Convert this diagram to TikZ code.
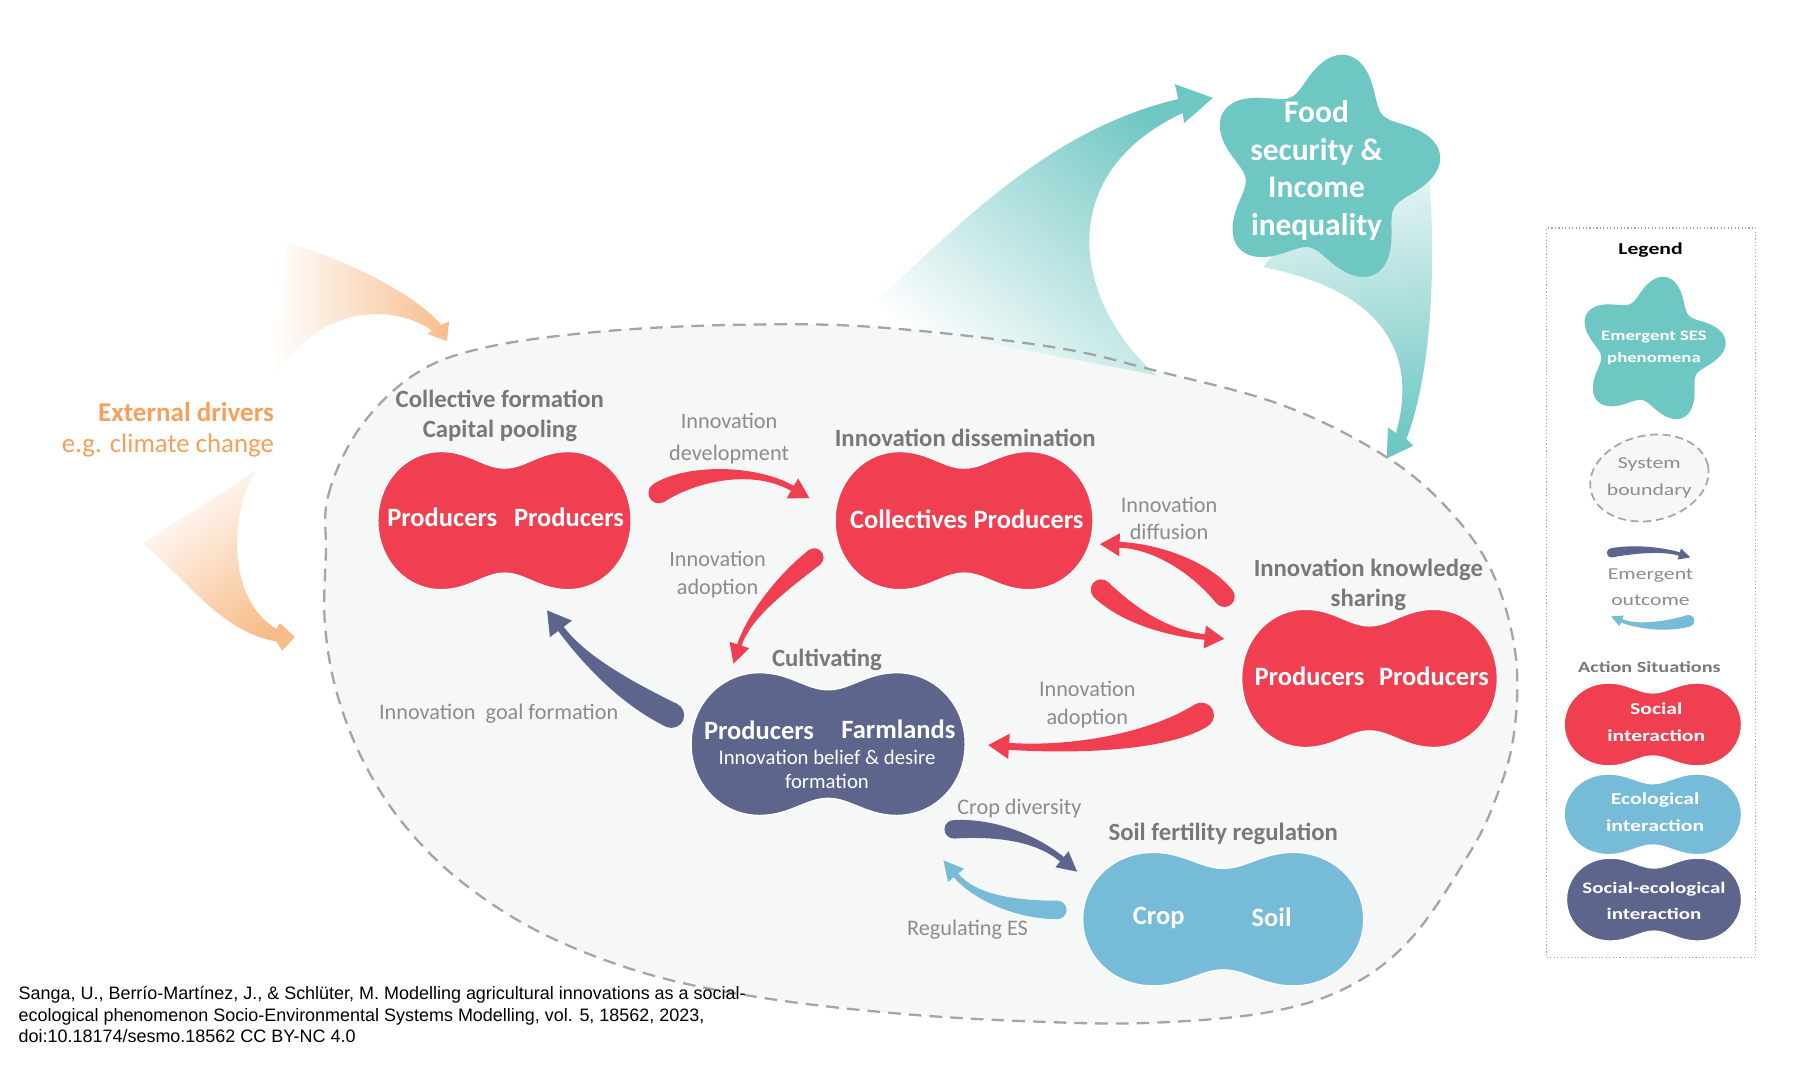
\documentclass[tikz,border=0pt]{standalone}
\usepackage{fontspec}
\setmainfont{Carlito}
\newfontfamily\legfont{Carlito}[FakeStretch=1.3]
\newfontfamily\citefont{Liberation Sans}
\usetikzlibrary{calc}
\newcommand\fsz[2]{\fontsize{#1}{#2}\selectfont}
\definecolor{cRed}{RGB}{239,63,80}
\definecolor{cDark}{RGB}{93,101,141}
\definecolor{cLight}{RGB}{118,188,217}
\definecolor{cTeal}{RGB}{111,199,195}
\definecolor{cOrange}{RGB}{245,160,92}
\definecolor{cOrangeA}{RGB}{248,188,138}
\definecolor{cGrayL}{RGB}{120,120,120}
\definecolor{cGrayT}{RGB}{140,140,140}
\definecolor{cBound}{RGB}{165,165,165}
\definecolor{cBg}{RGB}{246,247,247}
% peanut shaped action situation
\newcommand\peanut[4]{%
  \path[fill=#4, draw=white, line width=1.2pt, shift={#1}, xscale=#2, yscale=#3]
   (-1,0) .. controls (-1,-0.56) and (-0.78,-1) .. (-0.5,-1)
   .. controls (-0.28,-1) and (-0.16,-0.76) .. (0,-0.76)
   .. controls (0.16,-0.76) and (0.28,-1) .. (0.5,-1)
   .. controls (0.78,-1) and (1,-0.56) .. (1,0)
   .. controls (1,0.56) and (0.78,1) .. (0.5,1)
   .. controls (0.28,1) and (0.16,0.76) .. (0,0.76)
   .. controls (-0.16,0.76) and (-0.28,1) .. (-0.5,1)
   .. controls (-0.78,1) and (-1,0.56) .. (-1,0) -- cycle;}
% rounded five-lobed star
\newcommand\starblob[3]{%
  \fill[#3, shift={#1}, scale=#2] plot[domain=0:360, samples=160, smooth cycle]
   (\x:{85+16*cos(5*(\x+7))});}
% tapered arrow: name, start, c1, c2, end, tail half width, end half width, head half width, head length
\newcommand\tarrow[9]{%
  \coordinate (#1s) at #2; \coordinate (#1a) at #3; \coordinate (#1b) at #4; \coordinate (#1e) at #5;
  \coordinate (#1sl) at ($(#1s)!#6!90:(#1a)$);
  \coordinate (#1sr) at ($(#1s)!#6!-90:(#1a)$);
  \coordinate (#1el) at ($(#1e)!#7!-90:(#1b)$);
  \coordinate (#1er) at ($(#1e)!#7!90:(#1b)$);
  \coordinate (#1hl) at ($(#1e)!#8!-90:(#1b)$);
  \coordinate (#1hr) at ($(#1e)!#8!90:(#1b)$);
  \coordinate (#1t) at ($(#1e)!-#9!(#1b)$);
  \fill (#1sl) .. controls ($(#1a)+(#1sl)-(#1s)$) and ($(#1b)+(#1el)-(#1e)$) .. (#1el)
     -- (#1hl) -- (#1t) -- (#1hr) -- (#1er)
     .. controls ($(#1b)+(#1er)-(#1e)$) and ($(#1a)+(#1sr)-(#1s)$) .. (#1sr) -- cycle;
  \fill (#1s) circle[radius=#6];}
\tikzset{
  lbl/.style={text=cGrayL, font=\fsz{21.5}{26}\bfseries, align=center, inner sep=0pt},
  alb/.style={text=cGrayT, font=\fsz{19.3}{24}, align=center, inner sep=0pt},
  wt/.style={text=white, font=\fsz{23}{28}\bfseries, inner sep=0pt},
  lg/.style={font=\legfont\fsz{14.5}{23}, align=center, inner sep=0pt},
  cite/.style={font=\citefont\fsz{15.6}{18.5}, anchor=base west, inner sep=0pt},
}
\begin{document}
\begin{tikzpicture}[x=1pt,y=-1pt]
\useasboundingbox (0,0) rectangle (1568,924);
\fill[white] (0,0) rectangle (1568,924);

% external driver arrows
\shade[left color=white, right color=cOrangeA]
  (249,211) .. controls (300,225) and (360,255) .. (383,282) -- (390,279) -- (388,296) -- (371,290)
  -- (375,287) .. controls (340,262) and (270,265) .. (237,334) -- cycle;
\shade[top color=white, bottom color=cOrangeA, shading angle=36]
  (223,408) .. controls (200,440) and (195,520) .. (240,546) -- (243,541) -- (256,553) -- (245,565)
  -- (240,557) .. controls (190,548) and (160,500) .. (124,472) -- cycle;
\node[anchor=east, text=cOrange, font=\fsz{23.5}{26}\bfseries, inner sep=0pt] (extA) at (238,358) {External drivers};
\node[anchor=east, text=cOrange, font=\fsz{23.3}{26}, inner sep=0pt] (extB) at (238,387) {e.g. climate change};

% system boundary fill
\fill[cBg] plot[smooth cycle, tension=0.6] coordinates {(283,480) (285,430) (312,372) (360,325) (420,302) (520,288) (640,282) (760,284) (912,301) (1004,322) (1114,352) (1204,397) (1260,445) (1297,500) (1316,570) (1314,640) (1298,695) (1275,742) (1225,815) (1170,857) (1100,879) (1000,888) (900,887) (780,880) (660,866) (560,845) (470,810) (400,765) (350,715) (315,660) (292,600) (282,540)};

% emergent arrows (teal)
\shade[top color=cTeal, bottom color=white, shading angle=-40]
  (742,278) .. controls (820,210) and (900,115) .. (1023,86) -- (1020,73) -- (1053,85) -- (1028,107)
  -- (1027,98) .. controls (915,150) and (930,260) .. (1004,326)
  .. controls (900,305) and (800,288) .. (742,278) -- cycle;
\shade[top color=cTeal!8, bottom color=cTeal, shading angle=10]
  (1238,125) .. controls (1248,210) and (1245,320) .. (1221,381) -- (1227,387) -- (1204,398) -- (1205,371)
  -- (1212,376) .. controls (1228,320) and (1215,255) .. (1097,232) -- (1120,200) -- (1150,150) -- cycle;

% boundary dashed line
\draw[cBound, line width=2pt, dash pattern=on 11pt off 7pt] plot[smooth cycle, tension=0.6] coordinates {(283,480) (285,430) (312,372) (360,325) (420,302) (520,288) (640,282) (760,284) (912,301) (1004,322) (1114,352) (1204,397) (1260,445) (1297,500) (1316,570) (1314,640) (1298,695) (1275,742) (1225,815) (1170,857) (1100,879) (1000,888) (900,887) (780,880) (660,866) (560,845) (470,810) (400,765) (350,715) (315,660) (292,600) (282,540)};

% emergent phenomenon star
\starblob{(1150,147)}{1}{cTeal}
\node[text=white, font=\fsz{27.3}{32.7}\bfseries, align=center, inner sep=0pt] (food) at (1143,148)
  {Food\\security \&\\Income\\inequality};

% action situations
\peanut{(438,452)}{110}{60}{cRed}
\node[wt] (cfA) at (384,449) {Producers};
\node[wt] (cfB) at (494,449) {Producers};
\node[lbl] (cfL) at (434,361) {Collective formation\\Capital pooling};

\peanut{(837,452)}{112}{60}{cRed}
\node[wt] (idA) at (789,451) {Collectives};
\node[wt] (idB) at (893,451) {Producers};
\node[lbl] (idL) at (838,380) {Innovation dissemination};

\peanut{(1189,589)}{111}{60}{cRed}
\node[wt] (ikA) at (1137,587) {Producers};
\node[wt] (ikB) at (1245,587) {Producers};
\node[lbl] (ikL) at (1188,508) {Innovation knowledge\\sharing};

\peanut{(719,646)}{119}{62}{cDark}
\node[wt] (cuA) at (659,634) {Producers};
\node[wt] (cuB) at (780,633) {Farmlands};
\node[text=white, font=\fsz{18}{21}, align=center, inner sep=0pt] (cuC) at (718,668) {Innovation belief \& desire\\formation};
\node[lbl] (cuL) at (718,573) {Cultivating};

\peanut{(1062,798)}{122}{58}{cLight}
\node[wt] (soA) at (1006,797) {Crop};
\node[wt] (soB) at (1104,796) {Soil};
\node[lbl] (soL) at (1062,724) {Soil fertility regulation};

% interaction arrows
\begin{scope}[cRed]
\tarrow{dev}{(572,428)}{(600,410)}{(655,405)}{(688,424)}{9pt}{2.5pt}{10pt}{17pt}
\tarrow{ado}{(707,484)}{(680,505)}{(650,535)}{(642,560)}{8pt}{2pt}{9pt}{17pt}
\tarrow{dif}{(1063,518)}{(1040,490)}{(1000,474)}{(972,473)}{9pt}{2.5pt}{10pt}{17pt}
\tarrow{shr}{(956,512)}{(980,535)}{(1015,550)}{(1046,553)}{9pt}{2.5pt}{10pt}{17pt}
\tarrow{adt}{(1043,621)}{(1010,642)}{(940,652)}{(876,648)}{11pt}{3pt}{11pt}{18pt}
\end{scope}
\begin{scope}[cDark]
\tarrow{gol}{(583,621)}{(540,600)}{(505,570)}{(487,546)}{11pt}{3pt}{12pt}{20pt}
\tarrow{crp}{(828,720)}{(865,718)}{(900,728)}{(922,746)}{8pt}{2.5pt}{9pt}{17pt}
\end{scope}
\begin{scope}[cLight]
\tarrow{reg}{(918,790)}{(880,790)}{(845,778)}{(830,760)}{8pt}{2.5pt}{9pt}{17pt}
\end{scope}

% arrow labels
\node[alb, font=\fsz{19.3}{28}] (devL) at (633,381) {Innovation\\development};
\node[alb] (adoL) at (623,499) {Innovation\\adoption};
\node[alb, font=\fsz{19.3}{23}] (difL) at (1015,450) {Innovation\\diffusion};
\node[alb] (adtL) at (944,612) {Innovation\\adoption};
\node[alb] (golL) at (433,620) {Innovation~~goal formation};
\node[alb] (crpL) at (885,702) {Crop diversity};
\node[alb] (regL) at (840,807) {Regulating ES};

% legend
\node[draw=cBound, dotted, line width=1pt, minimum width=181pt, minimum height=633pt, inner sep=0pt] (legbox) at (1433.5,514.5) {};
\node[lg, font=\legfont\fsz{14.5}{23}\bfseries, text=black] (legT) at (1433,217) {Legend};
\starblob{(1434,304)}{0.64}{cTeal}
\node[lg, font=\legfont\fsz{12.5}{19}\bfseries, text=white] (legS) at (1436,302) {Emergent SES\\phenomena};
\draw[cBound, fill=cBg, line width=1.5pt, dash pattern=on 7pt off 4pt, rotate around={12:(1432,415)}] (1432,415) ellipse [x radius=52pt, y radius=37pt];
\node[lg, text=cGrayT] (legB) at (1432,415) {System\\boundary};
\begin{scope}[cDark]
\tarrow{lga}{(1399,480)}{(1420,476)}{(1445,477)}{(1458,481)}{4pt}{1.5pt}{5pt}{10pt}
\end{scope}
\begin{scope}[cLight]
\tarrow{lgb}{(1466,539)}{(1445,545)}{(1420,544)}{(1408,539)}{5pt}{1.5pt}{5pt}{10pt}
\end{scope}
\node[lg, text=cGrayT] (legE) at (1433,510) {Emergent\\outcome};
\node[lg, font=\legfont\fsz{13.5}{23}\bfseries, text=cGrayL] (legA) at (1432,579) {Action Situations};
\peanut{(1435,629)}{77}{36}{cRed}
\node[lg, font=\legfont\fsz{14.5}{23}\bfseries, text=white] (legR) at (1438,627) {Social\\interaction};
\peanut{(1435,707)}{77}{35}{cLight}
\node[lg, font=\legfont\fsz{14.5}{23}\bfseries, text=white] (legL) at (1437,705) {Ecological\\interaction};
\peanut{(1436,781)}{76}{36}{cDark}
\node[lg, font=\legfont\fsz{14}{23}\bfseries, text=white] (legD) at (1436,782) {Social-ecological\\interaction};

% citation
\node[cite] (c1) at (16,868) {Sanga, U., Berrío-Martínez, J., \& Schlüter, M. Modelling agricultural innovations as a social-};
\node[cite] (c2) at (16,887) {ecological phenomenon Socio-Environmental Systems Modelling, vol. 5, 18562, 2023,};
\node[cite] (c3) at (16,905) {doi:10.18174/sesmo.18562 CC BY-NC 4.0};
\end{tikzpicture}
\end{document}
